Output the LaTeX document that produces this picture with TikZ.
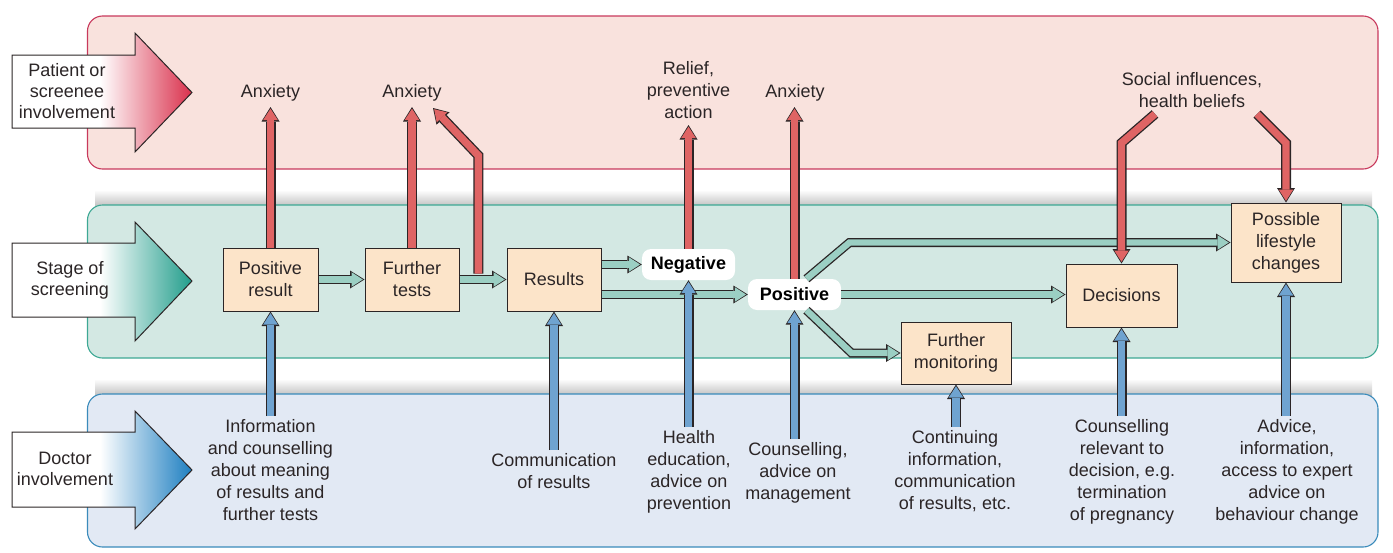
\documentclass[tikz,border=0pt]{standalone}
\usepackage{fontspec}
\setmainfont{Liberation Sans}
\usetikzlibrary{arrows.meta,calc}
\definecolor{pinkfill}{HTML}{F9E2DD}
\definecolor{pinkline}{HTML}{C8395C}
\definecolor{tealfill}{HTML}{D3E8E3}
\definecolor{tealline}{HTML}{3DA894}
\definecolor{bluefill}{HTML}{E2E9F4}
\definecolor{blueline}{HTML}{3A8BBB}
\definecolor{boxfill}{HTML}{FCE4C9}
\definecolor{inkc}{HTML}{2B2526}
\definecolor{redarr}{HTML}{DF6464}
\definecolor{tealarr}{HTML}{9BCFC3}
\definecolor{bluearr}{HTML}{6FA3D0}
\definecolor{redtip}{HTML}{D92E4A}
\definecolor{tealtip}{HTML}{1F9C8A}
\definecolor{bluetip}{HTML}{1B7DC0}
\newcommand\lblfont{\fontsize{18}{22}\selectfont}
\newcommand\fatarrow[2]{\draw[#1O] #2; \draw[#1I] #2;}
\begin{document}
\begin{tikzpicture}[x=1pt,y=-1pt,
 band/.style={rounded corners=15pt,line width=1.1pt},
 box/.style={draw=inkc,fill=boxfill,line width=1pt,align=center,font=\lblfont,text=inkc,inner sep=0pt},
 tag/.style={fill=white,rounded corners=9pt,font=\lblfont\bfseries,text=black,inner sep=0pt,minimum width=93pt,minimum height=31pt},
 lbl/.style={align=center,font=\lblfont,text=inkc,inner xsep=2pt,inner ysep=3pt},
 side/.style={align=center,font=\fontsize{18}{21}\selectfont,text=inkc,inner sep=0pt},
 sideline/.style={draw=inkc,line width=1pt,line join=miter},
 outer/.style={line width=10pt,draw=inkc,line join=miter,-{Triangle[length=14.5pt,width=18pt,line width=0pt]}},
 inner/.style={line width=7.4pt,line join=miter,shorten >=1.7pt,-{Triangle[length=11.3pt,width=14.6pt,line width=0pt]}},
 redO/.style={outer}, redI/.style={inner,draw=redarr},
 blueO/.style={outer}, blueI/.style={inner,draw=bluearr},
 tealO/.style={outer,line width=9pt}, tealI/.style={inner,line width=6.4pt,draw=tealarr},
]
\useasboundingbox (0,0) rectangle (1393,552);
% shadows above bands
\shade[top color=white,bottom color=black!24] (95,190) rectangle (1372,206);
\shade[top color=white,bottom color=black!24] (95,379) rectangle (1372,395);
% bands
\draw[band,fill=pinkfill,draw=pinkline] (87.5,16) rectangle (1378,169);
\draw[band,fill=tealfill,draw=tealline] (87.5,205) rectangle (1378,358);
\draw[band,fill=bluefill,draw=blueline] (87.5,394) rectangle (1378,547);

% side arrows
\def\patA{(12,55) -- (135,55) -- (135,33) -- (192,92.5) -- (135,152) -- (135,128) -- (12,128) -- cycle}
\def\patB{(12,243) -- (135,243) -- (135,222) -- (192,281) -- (135,341) -- (135,317) -- (12,317) -- cycle}
\def\patC{(12,432) -- (135,432) -- (135,411) -- (192,470) -- (135,529) -- (135,507) -- (12,507) -- cycle}
\fill[white] \patA;
\begin{scope}\clip \patA; \shade[left color=white,right color=redtip] (100,30) rectangle (193,155);\end{scope}
\draw[sideline] \patA;
\fill[white] \patB;
\begin{scope}\clip \patB; \shade[left color=white,right color=tealtip] (100,220) rectangle (193,343);\end{scope}
\draw[sideline] \patB;
\fill[white] \patC;
\begin{scope}\clip \patC; \shade[left color=white,right color=bluetip] (100,409) rectangle (193,531);\end{scope}
\draw[sideline] \patC;
\node[side] (sideA) at (67,91) {Patient or\\screenee\\involvement};
\node[side] (sideB) at (70,280) {Stage of\\screening};
\node[side] (sideC) at (65,469) {Doctor\\involvement};

% stage boxes
\node[box,minimum width=95pt,minimum height=63pt] (posres) at (270.5,279.5) {Positive\\result};
\node[box,minimum width=94pt,minimum height=63pt] (ftests) at (412,279.5) {Further\\tests};
\node[box,minimum width=94pt,minimum height=63pt] (results) at (554,279.5) {Results};
\node[tag] (neg) at (688.5,264.5) {Negative};
\node[tag] (pos) at (794.5,294.5) {Positive};
\node[box,minimum width=110pt,minimum height=62pt] (fmon) at (956,353) {Further\\monitoring};
\node[box,minimum width=111pt,minimum height=63pt] (dec) at (1121.5,295.5) {Decisions};
\node[box,minimum width=110pt,minimum height=79pt] (life) at (1286,242.5) {Possible\\lifestyle\\changes};

% patient labels
\node[lbl,inner ysep=6pt,anchor=south] (anx1) at (270.5,107) {Anxiety};
\node[lbl,inner ysep=6pt,anchor=south] (anx2) at (412,107) {Anxiety};
\node[lbl,inner ysep=6pt,anchor=south] (relief) at (688.5,125) {Relief,\\preventive\\action};
\node[lbl,inner ysep=6pt,anchor=south] (anx3) at (795,107) {Anxiety};
\node[lbl,inner ysep=6pt,anchor=south] (soc) at (1192,114) {Social influences,\\health beliefs};

% doctor labels
\node[lbl,anchor=north] (info) at (270.5,416) {Information\\and counselling\\about meaning\\of results and\\further tests};
\node[lbl,anchor=north] (comm) at (554,450) {Communication\\of results};
\node[lbl,anchor=north] (health) at (689,427) {Health\\education,\\advice on\\prevention};
\node[lbl,anchor=north] (couns) at (798,439) {Counselling,\\advice on\\management};
\node[lbl,anchor=north] (cont) at (955,427) {Continuing\\information,\\communication\\of results, etc.};
\node[lbl,anchor=north] (crel) at (1122,416) {Counselling\\relevant to\\decision, e.g.\\termination\\of pregnancy};
\node[lbl,anchor=north] (adv) at (1287,416) {Advice,\\information,\\access to expert\\advice on\\behaviour change};

% teal flow arrows
\fatarrow{teal}{(posres.east) -- (ftests.west)}
\fatarrow{teal}{(ftests.east) -- (results.west)}
\fatarrow{teal}{(results.east |- neg.west) -- (neg.west)}
\fatarrow{teal}{(results.east |- pos.west) -- (pos.west)}
\fatarrow{teal}{(pos.east) -- (pos.east -| dec.west)}
\coordinate (p1) at ($(pos.north)+(12,0)$);
\coordinate (p1b) at ($(pos.north)+(55,0)$);
\fatarrow{teal}{(p1) -- (p1b |- life.west) -- (life.west)}
\coordinate (p2) at ($(pos.south)+(12,0)$);
\coordinate (p2b) at ($(pos.south)+(57,0)$);
\fatarrow{teal}{(p2) -- (p2b |- fmon.west) -- (fmon.west)}

% red arrows
\fatarrow{red}{(posres.north) -- (posres.north |- anx1.south)}
\fatarrow{red}{(ftests.north) -- (ftests.north |- anx2.south)}
\coordinate (fr) at ($(ftests.east)!0.4!(results.west)$);
\coordinate (frs) at ($(fr)+(0,-6)$);
\coordinate (frk) at ($(fr)+(0,-124)$);
\coordinate (anx2t) at ($(anx2.south)+(21,1)$);
\fatarrow{red}{(frs) -- (frk) -- (anx2t)}
\fatarrow{red}{(neg.north) -- (neg.north |- relief.south)}
\fatarrow{red}{(pos.north) -- (pos.north |- anx3.south)}
\coordinate (s1) at ($(soc.south)+(-37,0)$);
\fatarrow{red}{(s1) -- ++(-33.5,29) -- (dec.north)}
\coordinate (s2) at ($(soc.south)+(65,0)$);
\fatarrow{red}{(s2) -- ++(29,29) -- (life.north)}

% blue arrows
\fatarrow{blue}{(posres.south |- info.north) -- (posres.south)}
\fatarrow{blue}{(results.south |- comm.north) -- (results.south)}
\fatarrow{blue}{(neg.south |- health.north) -- (neg.south)}
\fatarrow{blue}{(pos.south |- couns.north) -- (pos.south)}
\fatarrow{blue}{(fmon.south |- cont.north) -- (fmon.south)}
\fatarrow{blue}{(dec.south |- crel.north) -- (dec.south)}
\fatarrow{blue}{(life.south |- adv.north) -- (life.south)}
\end{tikzpicture}
\end{document}
